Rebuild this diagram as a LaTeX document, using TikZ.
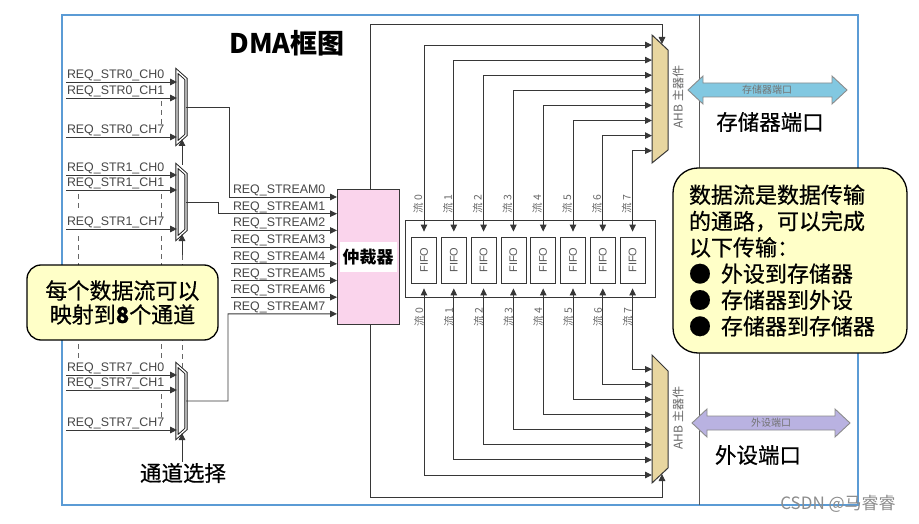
\documentclass[tikz,border=0pt]{standalone}
\usepackage{fontspec}
\setmainfont{Liberation Sans}
\newfontfamily\cjk{Noto Sans CJK SC}
\newfontfamily\cjkm{Noto Sans CJK SC}[FakeBold=0.6]
\usetikzlibrary{arrows.meta}
\definecolor{frameblue}{RGB}{91,155,213}
\definecolor{wirec}{RGB}{55,55,55}
\definecolor{arbpink}{RGB}{250,212,236}
\definecolor{ahbtan}{RGB}{232,214,160}
\definecolor{callyel}{RGB}{255,255,200}
\definecolor{memblue}{RGB}{130,200,225}
\definecolor{perlav}{RGB}{185,178,225}
\definecolor{lblgray}{RGB}{70,70,70}
\begin{document}
\begin{tikzpicture}[x=1pt,y=-1pt,
  wire/.style={draw=wirec, line width=0.9pt},
  arw/.style={-{Triangle[length=7pt,width=6.5pt]}},
  darw/.style={{Triangle[length=7pt,width=6.5pt]}-{Triangle[length=7pt,width=6.5pt]}},
  dsh/.style={draw=black!60, line width=0.8pt, dash pattern=on 5pt off 4pt},
  req/.style={anchor=south west, inner sep=0.8pt, font=\fontsize{12.4}{12.4}\selectfont, text=lblgray},
  vlab/.style={rotate=90, font=\cjk\fontsize{10.5}{10.5}\selectfont, text=black!60, inner sep=0pt},
  muxl/.style={draw=black!90, line width=0.9pt, double=white, double distance=1.4pt, fill=white},
  ahb/.style={draw=wirec, line width=1pt, fill=ahbtan},
  port/.style={draw=black!45, line width=0.9pt},
  big/.style={font=\cjkm\fontsize{21.5}{21.5}\selectfont},
  callout/.style={draw=black, line width=1.3pt, fill=callyel}
]
\useasboundingbox (0,0) rectangle (919,524);
% frame
\draw[frameblue, line width=1.3pt] (62,15) rectangle (858,505);
\draw[draw=black!65, line width=1pt] (699,15) -- (699,505);

% title
\node[font=\cjk\bfseries\fontsize{27}{27}\selectfont] (title) at (287,43) {DMA框图};

% left muxes
\foreach \k/\t/\a/\b/\c in {0/71/82/98/137, 1/166/175/190/229, 7/365/375/390/430}{
  \path[muxl] (177,\t) -- (186,{\t+8}) -- (186,{\t+64}) -- (177,{\t+72}) -- cycle;
  \coordinate (mux\k out) at (186,{\t+36});
  \coordinate (mux\k a) at (177,\a);
  \coordinate (mux\k b) at (177,\b);
  \coordinate (mux\k c) at (177,\c);
  \coordinate (src\k a) at (66,\a);
  \coordinate (src\k b) at (66,\b);
  \coordinate (src\k c) at (66,\c);
  \draw[wire,arw] (src\k a) -- (mux\k a);
  \draw[wire,arw] (src\k b) -- (mux\k b);
  \draw[wire,arw] (src\k c) -- (mux\k c);
  \node[req] (l\k a) at (src\k a) {REQ\_STR\k\_CH0};
  \node[req] (l\k b) at (src\k b) {REQ\_STR\k\_CH1};
  \node[req] (l\k c) at (src\k c) {REQ\_STR\k\_CH7};
}
% dashed continuation lines
\draw[dsh] (161,101) -- (161,128);
\draw[dsh] (161,194) -- (161,220);
\draw[dsh] (161,236) -- (161,362);
\draw[dsh] (161,394) -- (161,421);
\draw[dsh] (78,194) -- (78,208);
\draw[dsh] (78,236) -- (78,362);
\draw[dsh] (182,255) -- (182,368);
% channel select
\coordinate (sel0) at (182,165);
\coordinate (sel0t) at (182,139);
\coordinate (sel1) at (182,255);
\coordinate (sel1t) at (182,234);
\coordinate (sel7t) at (182,433);
\node[big, inner sep=1pt] (sel) at (183,473) {通道选择};
\draw[wire,arw] (sel0) -- (sel0t);
\draw[wire,arw] (sel1) -- (sel1t);
\draw[wire,arw] (sel.north -| sel7t) -- (sel7t);

% arbiter
\node[draw=wirec, line width=1pt, fill=arbpink, minimum width=62pt, minimum height=134pt, inner sep=0pt] (arb) at (368,257) {};
\node[fill=white, minimum width=57pt, minimum height=30pt, inner sep=0pt, font=\cjk\bfseries\fontsize{17}{17}\selectfont] (arblab) at (arb.center) {仲裁器};
\foreach \i in {0,...,7}{
  \pgfmathsetmacro\yy{197+16.7*\i}
  \coordinate (sin\i) at (337,\yy);
  \node[req] (rs\i) at (232,\yy) {REQ\_STREAM\i};
}
\foreach \i in {2,...,6}{
  \pgfmathsetmacro\yy{197+16.7*\i}
  \coordinate (sst\i) at (231,\yy);
  \draw[wire,arw] (sst\i) -- (sin\i);
}
\draw[wire,arw] (mux0out) -| (229,197) -- (sin0);
\draw[wire,arw] (mux1out) -| (218,213.7) -- (sin1);
\draw[wire,arw] (mux7out) -| (228,313.9) -- (sin7);

% AHB masters
\path[ahb] (652,35) -- (668,50) -- (668,150) -- (652,163) -- cycle;
\path[ahb] (652,355) -- (668,371) -- (668,468) -- (652,483) -- cycle;
\node[vlab, font=\cjk\fontsize{12}{12}\selectfont] (ahbTlab) at (678,97) {AHB 主器件};
\node[vlab, font=\cjk\fontsize{12}{12}\selectfont] (ahbBlab) at (678,418) {AHB 主器件};
\coordinate (ahbTsel) at (662,44);
\coordinate (ahbBsel) at (662,474);
\draw[wire,arw] ([xshift=2pt]arb.north) |- (662,24) -- (ahbTsel);
\draw[wire,arw] ([xshift=2pt]arb.south) |- (662,497) -- (ahbBsel);

% FIFO block
\node[draw=wirec, line width=1pt, minimum width=250pt, minimum height=77pt, inner sep=0pt] (fifobox) at (530,258.5) {};
\foreach \i in {0,...,7}{
  \pgfmathsetmacro\xx{424+29.8*\i}
  \node[draw=wirec, line width=0.8pt, minimum width=25pt, minimum height=46pt, inner sep=0pt, text=black!65] (f\i) at (\xx,260) {\rotatebox{90}{\fontsize{11}{11}\selectfont FIFO}};
  \coordinate (mt\i) at (652,{45+15.1*\i});
  \coordinate (mb\i) at (652,{475-15.1*\i});
  \draw[wire,darw] ([yshift=5pt]f\i.north) |- (mt\i);
  \draw[wire,darw] ([yshift=-5pt]f\i.south) |- (mb\i);
  \node[vlab] (tl\i) at ({\xx-6},204) {流 \i};
  \node[vlab] (bl\i) at ({\xx-5},317) {流 \i};
}

% ports
\path[port, fill=memblue] (688,90) -- (703,76) -- (703,83) -- (832,83) -- (832,76) -- (847,90) -- (832,104) -- (832,97) -- (703,97) -- (703,104) -- cycle;
\node[font=\cjk\fontsize{10}{10}\selectfont, text=black!55, inner sep=0pt] (memsmall) at (767,90) {存储器端口};
\node[big] (memlab) at (770,122) {存储器端口};
\path[port, fill=perlav] (692,423) -- (707,409) -- (707,416) -- (835,416) -- (835,409) -- (850,423) -- (835,437) -- (835,430) -- (707,430) -- (707,437) -- cycle;
\node[font=\cjk\fontsize{10}{10}\selectfont, text=black!55, inner sep=0pt] (persmall) at (771,423) {外设端口};
\node[big] (perlab) at (758,455) {外设端口};

% callouts
\node[callout, rounded corners=14pt, minimum width=191pt, minimum height=75pt, align=center, inner sep=0pt, font=\cjkm\fontsize{22}{24}\selectfont] (callL) at (122.5,302.5) {每个数据流可以\\映射到\textbf{8}个通道};
\node[callout, rounded corners=25pt, minimum width=234pt, minimum height=185pt, align=left, text width=202pt, inner xsep=16pt, inner ysep=0pt, font=\cjkm\fontsize{22}{26.3}\selectfont] (callR) at (790,260.5) {数据流是数据传输\\的通路，可以完成\\以下传输：\\●\hspace{10pt}外设到存储器\\●\hspace{10pt}存储器到外设\\●\hspace{10pt}存储器到存储器};

% watermark
\node[font=\cjk\fontsize{17}{17}\selectfont, text=black!45] (wm) at (838,504) {CSDN @马睿睿};
\end{tikzpicture}
\end{document}
